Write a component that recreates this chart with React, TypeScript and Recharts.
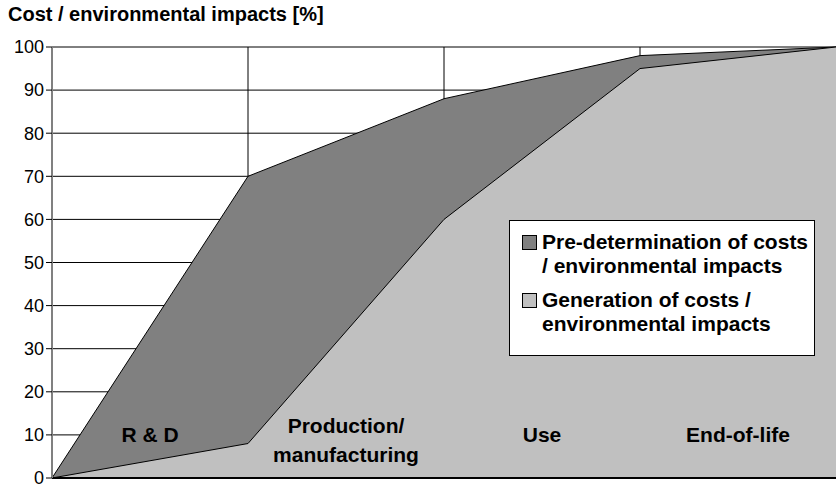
import React from 'react';
import { AreaChart, Area, XAxis, YAxis, CartesianGrid, ReferenceDot } from 'recharts';

document.body.style.margin = '0';

const stages = [0, 1, 2, 3, 4];
const predetermination = [0, 70, 88, 98, 100];
const generation = [0, 8, 60, 95, 100];
const phaseNames = [['R & D'], ['Production/', 'manufacturing'], ['Use'], ['End-of-life']];
const phaseCenters = [0.5, 1.5, 2.5, 3.5];
const yTicks = [0, 10, 20, 30, 40, 50, 60, 70, 80, 90, 100];

const series = [
  { key: 'pre', name: ['Pre-determination of costs', '/ environmental impacts'], color: '#808080' },
  { key: 'gen', name: ['Generation of costs /', 'environmental impacts'], color: '#c0c0c0' },
];

const data = stages.map((s, i) => ({ stage: s, pre: predetermination[i], gen: generation[i] }));

const FONT = '"Liberation Sans", Arial, Helvetica, sans-serif';

const PhaseLabel = ({ viewBox, lines }: any) => {
  const cx = viewBox.x + (viewBox.width || 0) / 2;
  const cy = viewBox.y + (viewBox.height || 0) / 2;
  const lh = 29;
  const start = cy - (lines.length - 1) * 9;
  return (
    <text x={cx} textAnchor="middle" fontFamily={FONT} fontWeight="bold" fontSize={21} fill="#000">
      {lines.map((l: string, i: number) => (
        <tspan key={i} x={cx} y={start + i * lh} dy="0.35em">{l}</tspan>
      ))}
    </text>
  );
};

const App = () => {
  return (
    <div style={{ position: 'relative', width: 836, height: 485, fontFamily: FONT, background: '#fff' }}>
      <div style={{ position: 'absolute', left: 8, top: 4, fontSize: 20, lineHeight: '20px', fontWeight: 'bold' }}>
        Cost / environmental impacts [%]
      </div>
      <AreaChart width={836} height={485} data={data} margin={{ top: 47, right: 0, left: 0, bottom: 0 }}>
        <CartesianGrid stroke="#000" strokeWidth={1} verticalPoints={[248, 444, 640]} />
        <XAxis
          dataKey="stage"
          type="number"
          domain={[0, 4]}
          ticks={stages}
          tick={false}
          height={7}
          tickSize={8}
          axisLine={{ stroke: '#000', strokeWidth: 2 }}
          tickLine={{ stroke: '#000' }}
        />
        <YAxis
          type="number"
          domain={[0, 100]}
          ticks={yTicks}
          width={52}
          tickSize={6}
          axisLine={{ stroke: '#808080', strokeWidth: 2 }}
          tickLine={{ stroke: '#000' }}
          tick={{ fill: '#000', fontSize: 18, fontFamily: FONT }}
          interval={0}
        />
        <Area
          type="linear"
          dataKey="pre"
          stroke="#000"
          strokeWidth={1}
          fill="#808080"
          fillOpacity={1}
          isAnimationActive={false}
        />
        <Area
          type="linear"
          dataKey="gen"
          stroke="#000"
          strokeWidth={1}
          fill="#c0c0c0"
          fillOpacity={1}
          isAnimationActive={false}
        />
        {phaseCenters.map((c, i) => (
          <ReferenceDot
            key={i}
            x={c}
            y={10}
            r={0}
            fill="none"
            stroke="none"
            label={(props: any) => <PhaseLabel {...props} lines={phaseNames[i]} />}
          />
        ))}
      </AreaChart>
      <div
        style={{
          position: 'absolute',
          left: 509,
          top: 220,
          width: 306,
          height: 136,
          background: '#fff',
          border: '1px solid #000',
          boxSizing: 'border-box',
          padding: '9px 0 0 12px',
        }}
      >
        {series.map((s, i) => (
          <div key={s.key} style={{ display: 'flex', marginBottom: i === 0 ? 10 : 0 }}>
            <div
              style={{
                width: 15,
                height: 15,
                background: s.color,
                border: '1px solid #000',
                boxSizing: 'border-box',
                marginTop: 5,
                marginRight: 5,
                flex: 'none',
              }}
            />
            <div style={{ fontSize: 21, fontWeight: 'bold', lineHeight: '24px', whiteSpace: 'nowrap' }}>
              {s.name.map((n, j) => (
                <div key={j}>{n}</div>
              ))}
            </div>
          </div>
        ))}
      </div>
    </div>
  );
};

export default App;
